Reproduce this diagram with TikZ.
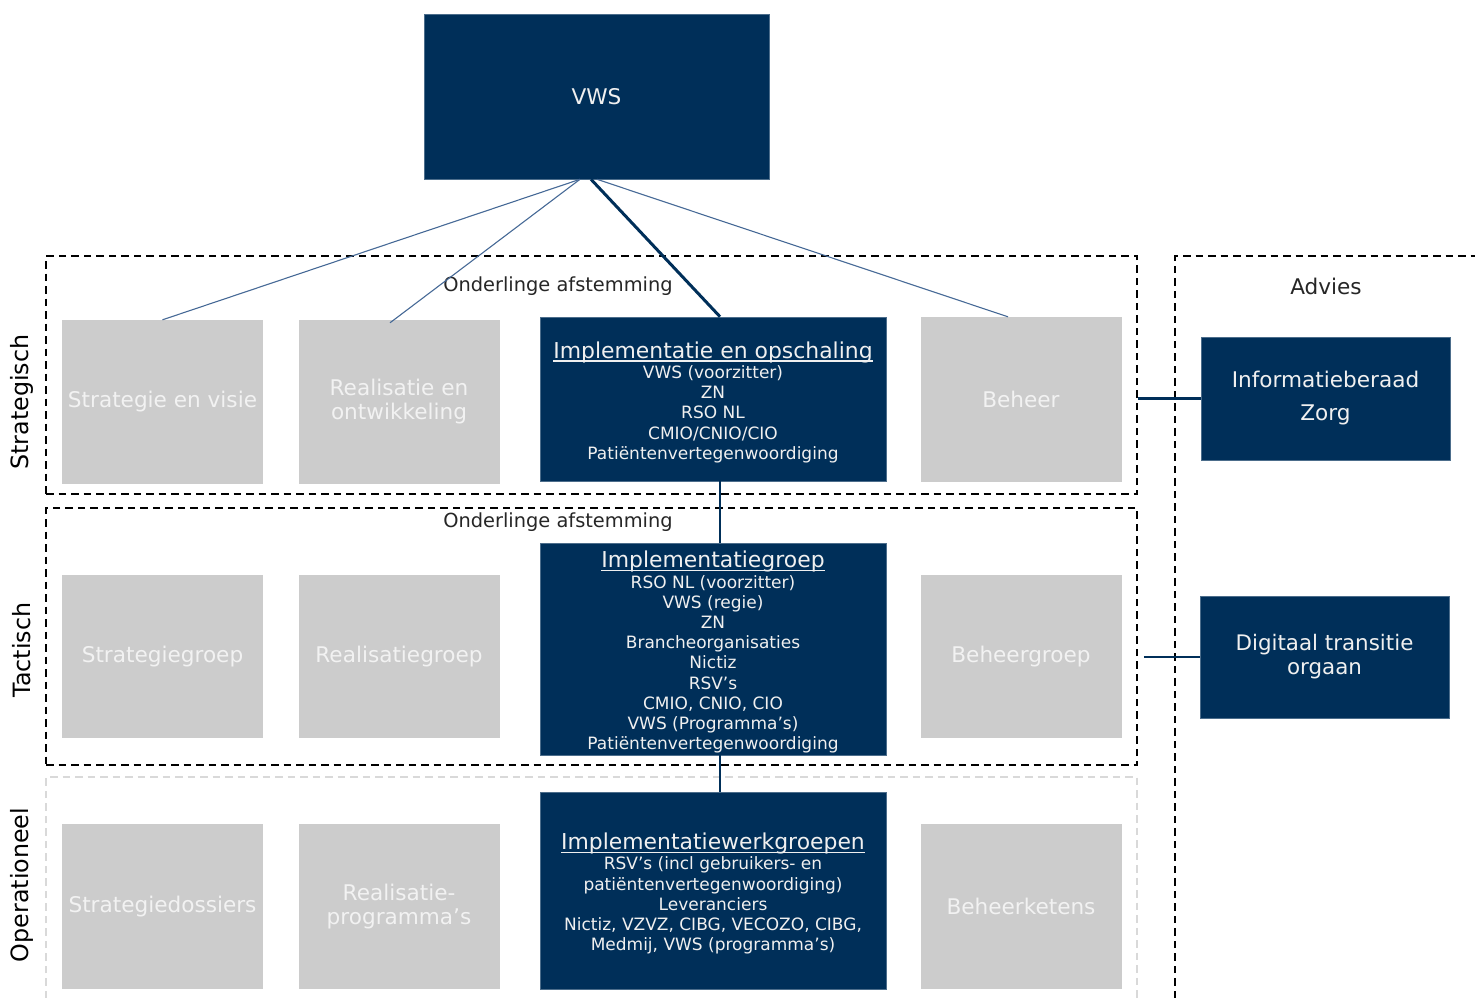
\documentclass[tikz,border=0pt]{standalone}
\usepackage{fontspec}
\setmainfont{DejaVu Sans}
\usetikzlibrary{calc}
\definecolor{navy}{RGB}{0,47,89}
\definecolor{boxgrey}{RGB}{204,204,204}
\definecolor{thinblue}{RGB}{70,105,150}
\definecolor{lightdash}{RGB}{217,217,217}
\newcommand{\fsz}[2]{\fontsize{#1}{#2}\selectfont}
\newcommand{\ulin}[1]{\setbox0\hbox{#1}\rule{0pt}{23pt}\rlap{\rule[-3.6pt]{\wd0}{1.4pt}}\box0}
\begin{document}
\begin{tikzpicture}[x=1pt,y=-1pt,
  navybox/.style={fill=navy, draw=navy!70!white, line width=0.6pt, text=white!94!black, align=center, inner sep=0pt, font=\fsz{17}{20.2}},
  greyrect/.style={fill=boxgrey, draw=none, text=white!95!black, align=center, inner sep=0pt, font=\fsz{21.6}{24}, minimum width=201pt},
  blackdash/.style={draw=black, line width=1.7pt, dash pattern=on 7.5pt off 5pt},
  thinline/.style={draw=thinblue, line width=1.1pt},
  thickline/.style={draw=navy, line width=3pt},
  sidelabel/.style={rotate=90, font=\fsz{23.8}{24}, inner sep=0pt},
  plainlabel/.style={font=\fsz{19.4}{22}, inner sep=0pt, text=black!85}
]
\useasboundingbox (0,0) rectangle (1475,998);

% dashed layer frames
\node[blackdash, minimum width=1091pt, minimum height=238pt, inner sep=0pt] (strat) at (591.5,375) {};
\node[blackdash, minimum width=1091pt, minimum height=257pt, inner sep=0pt] (tact) at (591.5,636.5) {};
\draw[draw=lightdash, line width=1.7pt, dash pattern=on 7.5pt off 5pt] (46,998) -- (46,777) -- (1137,777) -- (1137,998);
\draw[blackdash] (1175,998) -- (1175,256) -- (1475,256);

% labels
\node[plainlabel] (oa1) at (558,286) {Onderlinge afstemming};
\node[plainlabel] (oa2) at (558,522) {Onderlinge afstemming};
\node[plainlabel, font=\fsz{21.6}{24}] (adv) at (1326,286) {Advies};
\node[sidelabel] (lS) at (22,402) {Strategisch};
\node[sidelabel] (lT) at (22,650) {Tactisch};
\node[sidelabel] (lO) at (22,885) {Operationeel};

% top
\node[navybox, minimum width=345pt, minimum height=165pt, font=\fsz{21.6}{24}] (vws) at (596.5,96.5) {VWS};

% row 1
\node[greyrect, minimum height=164pt] (sv) at (162.5,402) {Strategie en visie};
\node[greyrect, minimum height=164pt] (ro) at (399,402) {Realisatie en\\ontwikkeling};
\node[navybox, minimum width=346pt, minimum height=164pt] (io) at (713,399) {{\fsz{21.9}{20.2}\ulin{Implementatie en opschaling}}\\VWS (voorzitter)\\ZN\\RSO NL\\CMIO/CNIO/CIO\\Patiëntenvertegenwoordiging};
\node[greyrect, minimum height=165pt] (be) at (1021,399.5) {Beheer};

% row 2
\node[greyrect, minimum height=163pt] (sg) at (162.5,656.5) {Strategiegroep};
\node[greyrect, minimum height=163pt] (rg) at (399,656.5) {Realisatiegroep};
\node[navybox, minimum width=346pt, minimum height=212pt] (ig) at (713,649) {{\fsz{21.9}{20.2}\ulin{Implementatiegroep}}\\RSO NL (voorzitter)\\VWS (regie)\\ZN\\Brancheorganisaties\\Nictiz\\RSV’s\\CMIO, CNIO, CIO\\VWS (Programma’s)\\Patiëntenvertegenwoordiging};
\node[greyrect, minimum height=163pt] (bg) at (1021,656.5) {Beheergroep};

% row 3
\node[greyrect, minimum height=165pt] (sd) at (162.5,906.5) {Strategiedossiers};
\node[greyrect, minimum height=165pt] (rp) at (399,906.5) {Realisatie-\\programma’s};
\node[navybox, minimum width=346pt, minimum height=197pt] (iw) at (713,890.5) {{\fsz{21.9}{20.2}\ulin{Implementatiewerkgroepen}}\\RSV’s (incl gebruikers- en\\patiëntenvertegenwoordiging)\\Leveranciers\\Nictiz, VZVZ, CIBG, VECOZO, CIBG,\\Medmij, VWS (programma’s)};
\node[greyrect, minimum height=165pt] (bk) at (1021,906.5) {Beheerketens};

% advies boxes
\node[navybox, minimum width=249pt, minimum height=123pt, font=\fsz{21.6}{33}] (ib) at (1325.5,398.5) {Informatieberaad\\Zorg};
\node[navybox, minimum width=249pt, minimum height=122pt, font=\fsz{21.4}{24}] (dto) at (1324.5,657) {Digitaal transitie\\orgaan};

% connectors
\draw[thinline] ([xshift=-16.5pt]vws.south) -- (sv.north);
\draw[thinline] ([xshift=-16.5pt]vws.south) -- ([xshift=-9pt,yshift=-3pt]ro.north);
\draw[thinline] ([xshift=0.5pt]vws.south) -- ([xshift=-13pt]be.north);
\draw[thickline] ([xshift=-5.5pt]vws.south) -- ([xshift=7pt]io.north);
\draw[navy, line width=2.6pt] ([xshift=7pt]io.south) -- ([xshift=7pt]ig.north);
\draw[navy, line width=2.6pt] ([xshift=7pt]ig.south) -- ([xshift=7pt]iw.north);
\draw[navy, line width=2.4pt] (strat.east |- ib.west) -- (ib.west);
\draw[navy, line width=2.4pt] ([xshift=6pt]tact.east |- dto.west) -- (dto.west);
\end{tikzpicture}
\end{document}
